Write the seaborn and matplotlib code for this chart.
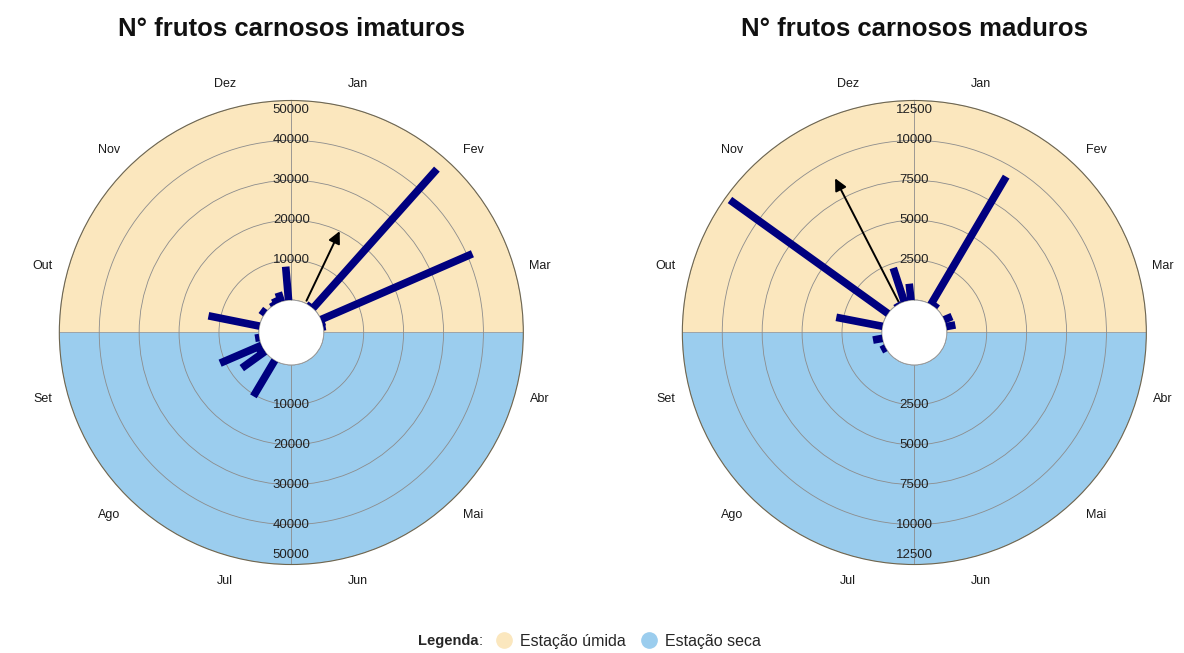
import numpy as np
import pandas as pd
import seaborn as sns
import matplotlib.pyplot as plt
from matplotlib.lines import Line2D

# position on the annual circle (degrees, clockwise from 1 Jan) and counts
imat_angle = [41.7, 35, 66.5, 72, 80, 355.1, 342, 334, 328, 306.5, 281.4, 261, 246.7, 240, 234.3, 210.7]
imat_value = [46700, 700, 41350, 700, 600, 8430, 2400, 1500, 900, 1380, 13050, 1060, 11300, 1800, 7160, 10470]
imat_mean = (25.5, 20700)

mad_angle = [305.7, 30.5, 281, 341.9, 354, 329, 37.6, 67, 79.5, 259.6, 242]
mad_value = [12190, 9300, 2950, 2220, 1040, 120, 290, 530, 580, 600, 310]
mad_mean = (332.8, 9000)

months = ["Jan", "Fev", "Mar", "Abr", "Mai", "Jun", "Jul", "Ago", "Set", "Out", "Nov", "Dez"]
imat_ticks = [10000, 20000, 30000, 40000, 50000]
mad_ticks = [2500, 5000, 7500, 10000, 12500]

wet_color = "#FBE7BE"
dry_color = "#9BCDEE"
bar_color = "#00007F"

sns.set_theme(style="white")
plt.rcParams["font.family"] = ["Liberation Sans", "DejaVu Sans"]


def rose(ax, angles, values, mean, ticks):
    ymax = ticks[-1]
    df = pd.DataFrame({"theta": np.deg2rad(angles), "value": values})

    ax.set_theta_zero_location("N")
    ax.set_theta_direction(-1)
    ax.set_ylim(0, ymax)
    ax.set_rorigin(-0.1625 * ymax)
    ax.set_facecolor("white")

    # wet / dry halves
    ax.bar([0, np.pi], [ymax, ymax], width=np.pi, bottom=0,
           color=[wet_color, dry_color], edgecolor="#9a9a9a", linewidth=0.5, zorder=0)

    ax.set_xticks([0, np.pi])
    ax.set_xticklabels(["", ""])
    ax.set_yticks([0] + ticks[:-1])
    ax.set_yticklabels([])
    ax.grid(True, color="#8c8c8c", linewidth=0.6)
    ax.spines["polar"].set_color("#6e6650")
    ax.spines["polar"].set_linewidth(0.8)
    ax.spines["inner"].set_color("#9a9a9a")
    ax.spines["inner"].set_linewidth(0.6)

    ax.vlines(df["theta"], 0, df["value"], color=bar_color, linewidth=5.5,
              capstyle="butt", zorder=3)

    ax.annotate("", xy=(np.deg2rad(mean[0]), mean[1]), xytext=(np.deg2rad(mean[0]), 0),
                arrowprops=dict(arrowstyle="-|>", color="black", lw=1.4, mutation_scale=18),
                zorder=4)

    for v in ticks:
        r = v if v < ymax else v - 0.05 * ymax
        ax.text(0, r, f"{v}", ha="center", va="center", fontsize=9.5, color="#222222", zorder=5)
        ax.text(np.pi, r, f"{v}", ha="center", va="center", fontsize=9.5, color="#222222", zorder=5)

    for i, m in enumerate(months):
        ax.text(np.deg2rad(15 + 30 * i), 1.1275 * ymax, m, ha="center", va="center",
                fontsize=9, color="#1a1a1a", clip_on=False)


fig = plt.figure(figsize=(11.84, 6.53), dpi=100)
ax1 = fig.add_axes([0.0501, 0.1355, 0.3919, 0.7106], projection="polar")
ax2 = fig.add_axes([0.5763, 0.1355, 0.3919, 0.7106], projection="polar")

rose(ax1, imat_angle, imat_value, imat_mean, imat_ticks)
rose(ax2, mad_angle, mad_value, mad_mean, mad_ticks)

fig.text(0.246, 0.955, "N° frutos carnosos imaturos", ha="center", va="center",
         fontsize=18.5, fontweight="bold", color="#111111")
fig.text(0.772, 0.955, "N° frutos carnosos maduros", ha="center", va="center",
         fontsize=18.5, fontweight="bold", color="#111111")

handles = [
    Line2D([], [], marker="o", linestyle="", markersize=11, color=wet_color),
    Line2D([], [], marker="o", linestyle="", markersize=11, color=dry_color),
]
fig.text(0.404, 0.018, "Legenda", ha="right", va="center", fontsize=10.5, fontweight="bold")
fig.text(0.404, 0.018, ":", ha="left", va="center", fontsize=10.5)
fig.legend(handles, ["Estação úmida", "Estação seca"], loc="center left",
           bbox_to_anchor=(0.412, 0.018), ncol=2, frameon=False, fontsize=11.5,
           handletextpad=0.5, columnspacing=1.0, borderpad=0, handlelength=1.0)

fig.savefig("out.png", dpi=100)
